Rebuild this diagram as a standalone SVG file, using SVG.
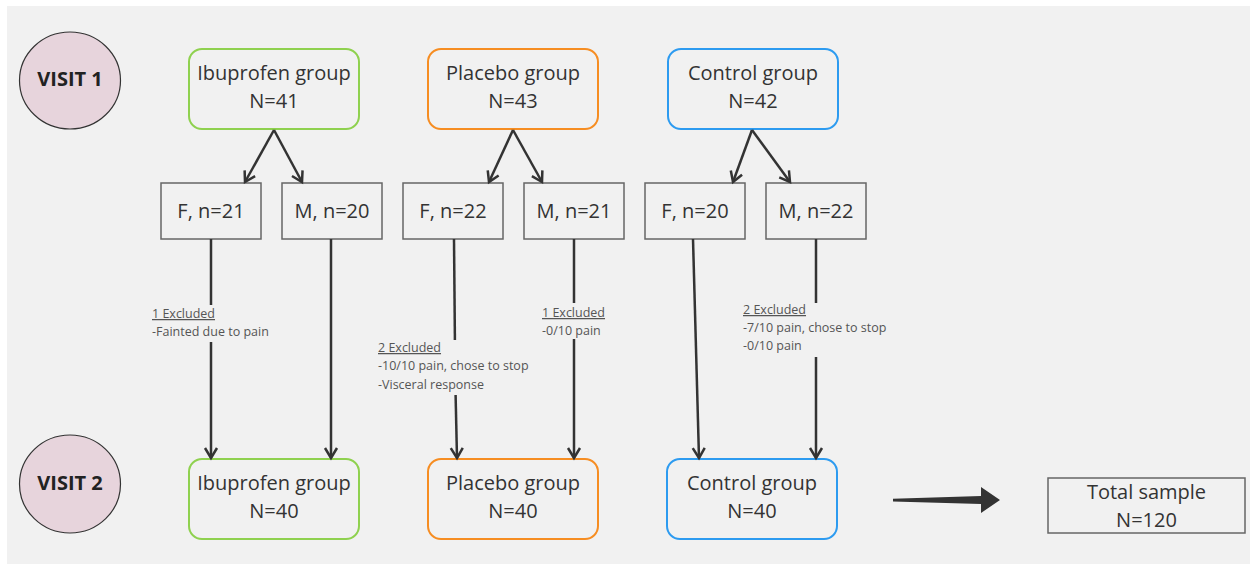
<svg xmlns="http://www.w3.org/2000/svg" width="1250" height="564" viewBox="0 0 1250 564">
<style>
text{font-family:"Open Sans","Liberation Sans",sans-serif;fill:#333}
.t{font-size:20px;text-anchor:middle}
.v{font-size:20px;font-weight:bold;text-anchor:middle;fill:#222}
.n{font-size:12.5px;fill:#555}
.u{text-decoration:underline}
.visit{fill:#e7d4dc;stroke:#333;stroke-width:1.2}
.grp{fill:none;stroke-width:2}
.g{stroke:#8fd14f}.o{stroke:#f68d22}.b{stroke:#2d9bf0}
.sub{fill:none;stroke:#666;stroke-width:1.5}
.c{fill:none;stroke:#333;stroke-width:2.5}
</style>
<defs>
<marker id="ah" markerUnits="userSpaceOnUse" markerWidth="16" markerHeight="16" refX="12" refY="8" orient="auto">
<path d="M2,2 L12,8 L2,14" fill="none" stroke="#333" stroke-width="2.5" stroke-linejoin="miter"/>
</marker>
</defs>
<rect x="7" y="6" width="1243" height="558" fill="#f1f1f1"/>

<g id="visit1"><ellipse class="visit" cx="70" cy="80.5" rx="50.5" ry="48.5"/><text class="v" x="70" y="86">VISIT 1</text></g>
<g id="visit2"><ellipse class="visit" cx="70" cy="484" rx="50.5" ry="49"/><text class="v" x="70" y="490">VISIT 2</text></g>

<g id="ibu1"><rect class="grp g" x="189" y="49" width="170" height="80" rx="13"/><text class="t" x="274" y="80">Ibuprofen group</text><text class="t" x="274" y="108">N=41</text></g>
<g id="pla1"><rect class="grp o" x="428" y="49" width="170" height="80" rx="13"/><text class="t" x="513" y="80">Placebo group</text><text class="t" x="513" y="108">N=43</text></g>
<g id="con1"><rect class="grp b" x="668" y="49" width="170" height="80" rx="13"/><text class="t" x="753" y="80">Control group</text><text class="t" x="753" y="108">N=42</text></g>

<g id="ibuF"><rect class="sub" x="161" y="183" width="100" height="56"/><text class="t" x="211" y="218">F, n=21</text></g>
<g id="ibuM"><rect class="sub" x="282" y="183" width="100" height="56"/><text class="t" x="332" y="218">M, n=20</text></g>
<g id="plaF"><rect class="sub" x="403" y="183" width="100" height="56"/><text class="t" x="453" y="218">F, n=22</text></g>
<g id="plaM"><rect class="sub" x="524" y="183" width="100" height="56"/><text class="t" x="574" y="218">M, n=21</text></g>
<g id="conF"><rect class="sub" x="645" y="183" width="100" height="56"/><text class="t" x="695" y="218">F, n=20</text></g>
<g id="conM"><rect class="sub" x="766" y="183" width="100" height="56"/><text class="t" x="816" y="218">M, n=22</text></g>

<g id="ibu2"><rect class="grp g" x="189" y="459" width="170" height="80" rx="13"/><text class="t" x="274" y="490">Ibuprofen group</text><text class="t" x="274" y="518">N=40</text></g>
<g id="pla2"><rect class="grp o" x="428" y="459" width="170" height="80" rx="13"/><text class="t" x="513" y="490">Placebo group</text><text class="t" x="513" y="518">N=40</text></g>
<g id="con2"><rect class="grp b" x="667" y="459" width="170" height="80" rx="13"/><text class="t" x="752" y="490">Control group</text><text class="t" x="752" y="518">N=40</text></g>

<g id="total"><rect class="sub" x="1048" y="478" width="197" height="55"/><text class="t" x="1146.5" y="499">Total sample</text><text class="t" x="1146.5" y="527">N=120</text></g>

<g id="connectors">
<path class="c" d="M274,130 L245,182" marker-end="url(#ah)"/>
<path class="c" d="M274,130 L302,182" marker-end="url(#ah)"/>
<path class="c" d="M513,130 L489,182" marker-end="url(#ah)"/>
<path class="c" d="M513,130 L542,182" marker-end="url(#ah)"/>
<path class="c" d="M752,130 L733,182" marker-end="url(#ah)"/>
<path class="c" d="M752,130 L790,182" marker-end="url(#ah)"/>

<path class="c" d="M211,239 V305"/><path class="c" d="M211,342 V458" marker-end="url(#ah)"/>
<path class="c" d="M331,239 V458" marker-end="url(#ah)"/>
<path class="c" d="M454,239 L454.9,340"/><path class="c" d="M455.6,395 L457,458" marker-end="url(#ah)"/>
<path class="c" d="M574,239 V303"/><path class="c" d="M574,339 V458" marker-end="url(#ah)"/>
<path class="c" d="M693,239 L699,458" marker-end="url(#ah)"/>
<path class="c" d="M816,239 V303"/><path class="c" d="M816,357 V458" marker-end="url(#ah)"/>

<path d="M893,498.8 L981,496 L981,487 L1000,500 L981,513 L981,504 L893,501.6 Z" fill="#333"/>
</g>

<g id="notes">
<text class="n u" x="152" y="318">1 Excluded</text>
<text class="n" x="152" y="336">-Fainted due to pain</text>
<text class="n u" x="378" y="352">2 Excluded</text>
<text class="n" x="378" y="370">-10/10 pain, chose to stop</text>
<text class="n" x="378" y="389">-Visceral response</text>
<text class="n u" x="542" y="317">1 Excluded</text>
<text class="n" x="542" y="335">-0/10 pain</text>
<text class="n u" x="743" y="314">2 Excluded</text>
<text class="n" x="743" y="332">-7/10 pain, chose to stop</text>
<text class="n" x="743" y="350">-0/10 pain</text>
</g>
</svg>
